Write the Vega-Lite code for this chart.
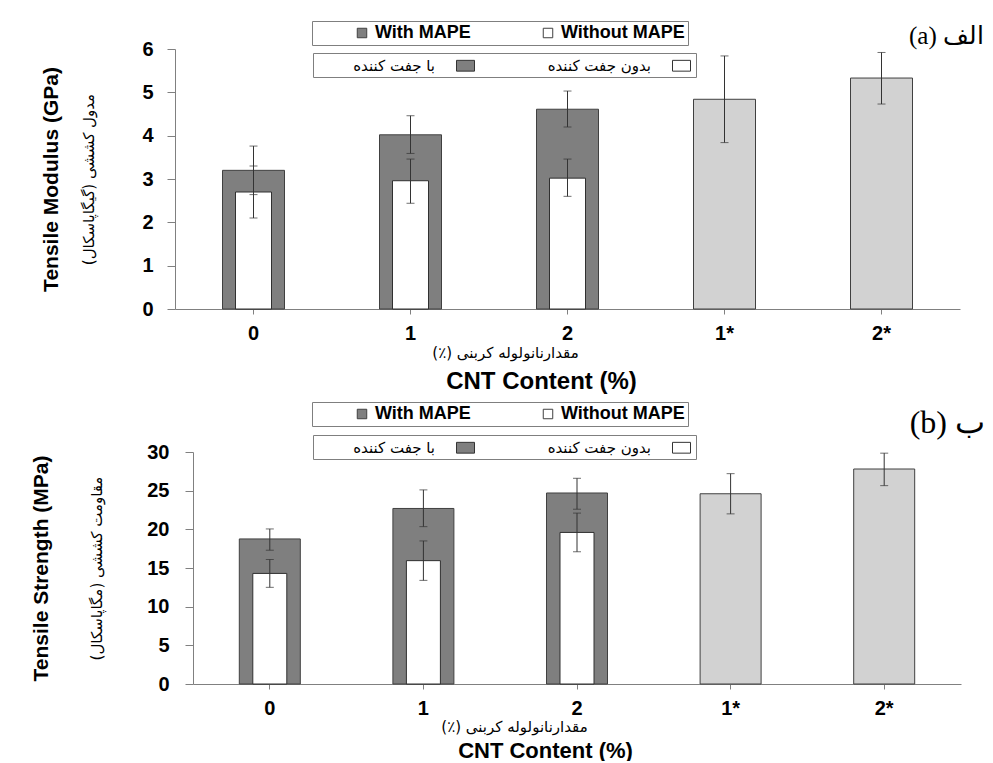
{
  "$schema": "https://vega.github.io/schema/vega-lite/v6.json",
  "background": "#ffffff",
  "padding": {"left": 30, "top": 20, "right": 0, "bottom": 0},
  "spacing": 8,
  "config": {
    "view": {"stroke": null},
    "axis": {"grid": false, "domainColor": "#808080", "tickColor": "#808080", "labelColor": "#000000", "titleColor": "#000000"}
  },
  "datasets": {
    "a": [
      {"cnt": "0", "s": "with", "g": "With MAPE", "gfa": "با جفت کننده", "v": 3.2, "lo": 2.64, "hi": 3.76},
      {"cnt": "0", "s": "without", "g": "Without MAPE", "gfa": "بدون جفت کننده", "v": 2.7, "lo": 2.1, "hi": 3.3},
      {"cnt": "1", "s": "with", "g": "With MAPE", "gfa": "با جفت کننده", "v": 4.02, "lo": 3.59, "hi": 4.46},
      {"cnt": "1", "s": "without", "g": "Without MAPE", "gfa": "بدون جفت کننده", "v": 2.96, "lo": 2.44, "hi": 3.46},
      {"cnt": "2", "s": "with", "g": "With MAPE", "gfa": "با جفت کننده", "v": 4.61, "lo": 4.2, "hi": 5.03},
      {"cnt": "2", "s": "without", "g": "Without MAPE", "gfa": "بدون جفت کننده", "v": 3.02, "lo": 2.6, "hi": 3.46},
      {"cnt": "1*", "s": "star", "g": "*", "gfa": "*", "v": 4.84, "lo": 3.84, "hi": 5.84},
      {"cnt": "2*", "s": "star", "g": "*", "gfa": "*", "v": 5.33, "lo": 4.73, "hi": 5.92}
    ],
    "b": [
      {"cnt": "0", "s": "with", "g": "With MAPE", "gfa": "با جفت کننده", "v": 18.76, "lo": 17.3, "hi": 20.05},
      {"cnt": "0", "s": "without", "g": "Without MAPE", "gfa": "بدون جفت کننده", "v": 14.3, "lo": 12.5, "hi": 16.1},
      {"cnt": "1", "s": "with", "g": "With MAPE", "gfa": "با جفت کننده", "v": 22.7, "lo": 20.35, "hi": 25.1},
      {"cnt": "1", "s": "without", "g": "Without MAPE", "gfa": "بدون جفت کننده", "v": 15.95, "lo": 13.4, "hi": 18.5},
      {"cnt": "2", "s": "with", "g": "With MAPE", "gfa": "با جفت کننده", "v": 24.7, "lo": 22.6, "hi": 26.6},
      {"cnt": "2", "s": "without", "g": "Without MAPE", "gfa": "بدون جفت کننده", "v": 19.6, "lo": 17.1, "hi": 22.1},
      {"cnt": "1*", "s": "star", "g": "*", "gfa": "*", "v": 24.6, "lo": 22.0, "hi": 27.2},
      {"cnt": "2*", "s": "star", "g": "*", "gfa": "*", "v": 27.8, "lo": 25.65, "hi": 29.85}
    ]
  },
  "vconcat": [
    {
      "width": 785,
      "height": 260,
      "title": {"text": "(a) الف", "anchor": "end", "frame": "group", "font": "Liberation Serif", "fontSize": 25, "fontWeight": "normal", "color": "#000000", "dx": 24, "offset": -28},
      "data": {"name": "a"},
      "layer": [
        {
          "transform": [{"filter": "datum.s != 'without'"}],
          "mark": {"type": "bar", "size": 62, "stroke": "#404040", "strokeWidth": 1},
          "encoding": {
            "x": {"field": "cnt", "type": "nominal", "scale": {"domain": ["0", "1", "2", "1*", "2*"], "paddingInner": 0, "paddingOuter": 0},
              "axis": {"orient": "bottom", "title": "مقدارنانولوله کربنی (٪)‏", "titleFont": "DejaVu Sans", "titleFontSize": 15, "titleFontWeight": "normal", "titleX": 330, "titlePadding": 2,
                "labelFont": "Liberation Sans", "labelFontSize": 20, "labelFontWeight": "bold", "labelAngle": 0, "labelPadding": 9, "tickSize": 5}},
            "y": {"field": "v", "type": "quantitative", "scale": {"domain": [0, 6]},
              "axis": {"orient": "left", "values": [0, 1, 2, 3, 4, 5, 6], "title": "مدول کششی (گیگاپاسکال)‏", "titleFont": "DejaVu Sans", "titleFontSize": 15, "titleFontWeight": "normal", "titlePadding": 45,
                "labelFont": "Liberation Sans", "labelFontSize": 20, "labelFontWeight": "bold", "labelPadding": 14, "tickSize": 8}},
            "fill": {"field": "g", "type": "nominal", "scale": {"domain": ["With MAPE", "Without MAPE", "*"], "range": ["#7f7f7f", "#ffffff", "#d2d2d2"]},
              "legend": {"orient": "none", "legendX": 137, "legendY": -28, "direction": "horizontal", "title": null,
                "values": ["With MAPE", "Without MAPE"],
                "strokeColor": "#7f7f7f", "fillColor": "#ffffff", "padding": 3, "labelFont": "Liberation Sans", "labelFontSize": 18, "labelFontWeight": "bold", "labelColor": "#000000", "labelLimit": 400,
                "symbolType": "square", "symbolSize": 90, "symbolStrokeColor": "#404040", "symbolStrokeWidth": 1, "symbolOffset": 38, "labelOffset": 4, "columnPadding": 30}}
          }
        },
        {
          "transform": [{"filter": "datum.s == 'without'"}],
          "mark": {"type": "bar", "size": 36, "stroke": "#303030", "strokeWidth": 1},
          "encoding": {
            "x": {"field": "cnt", "type": "nominal",
              "axis": {"orient": "bottom", "title": "CNT Content  (%)", "titleFont": "Liberation Sans", "titleFontSize": 24, "titleFontWeight": "bold", "labels": false, "ticks": false, "domain": false, "titlePadding": 60, "titleX": 366}},
            "y": {"field": "v", "type": "quantitative",
              "axis": {"orient": "left", "title": "Tensile Modulus (GPa)", "titleFont": "Liberation Sans", "titleFontSize": 21, "titleFontWeight": "bold", "labels": false, "ticks": false, "domain": false, "titlePadding": 114}},
            "fill": {"field": "gfa", "type": "nominal", "scale": {"domain": ["با جفت کننده", "بدون جفت کننده"], "range": ["#7f7f7f", "#ffffff"]},
              "legend": {"orient": "none", "legendX": 138, "legendY": 4, "direction": "horizontal", "title": null,
                "strokeColor": "#7f7f7f", "fillColor": "#ffffff", "padding": 3, "labelFont": "DejaVu Sans", "labelFontSize": 15, "labelColor": "#000000", "labelAlign": "right", "labelOffset": -40,
                "symbolType": "M-1,-0.6H1V0.6H-1Z", "symbolSize": 324, "symbolStrokeColor": "#333333", "symbolStrokeWidth": 1, "symbolOffset": 140, "columnPadding": 55}}
          }
        },
        {
          "mark": {"type": "rule", "color": "#333333", "strokeWidth": 1},
          "encoding": {
            "x": {"field": "cnt", "type": "nominal", "axis": null},
            "y": {"field": "lo", "type": "quantitative", "axis": null},
            "y2": {"field": "hi"}
          }
        },
        {
          "mark": {"type": "tick", "color": "#333333", "thickness": 1, "size": 8},
          "encoding": {
            "x": {"field": "cnt", "type": "nominal", "axis": null},
            "y": {"field": "lo", "type": "quantitative", "axis": null}
          }
        },
        {
          "mark": {"type": "tick", "color": "#333333", "thickness": 1, "size": 8},
          "encoding": {
            "x": {"field": "cnt", "type": "nominal", "axis": null},
            "y": {"field": "hi", "type": "quantitative", "axis": null}
          }
        }
      ],
      "resolve": {"scale": {"fill": "independent"}, "axis": {"x": "independent", "y": "independent"}}
    },
    {
      "width": 786,
      "height": 232,
      "title": {"text": "(b) ب", "anchor": "end", "frame": "group", "font": "Liberation Serif", "fontSize": 32, "fontWeight": "normal", "color": "#000000", "dx": 24, "offset": -38},
      "data": {"name": "b"},
      "layer": [
        {
          "transform": [{"filter": "datum.s != 'without'"}],
          "mark": {"type": "bar", "size": 61, "stroke": "#404040", "strokeWidth": 1},
          "encoding": {
            "x": {"field": "cnt", "type": "nominal", "scale": {"domain": ["0", "1", "2", "1*", "2*"], "paddingInner": 0, "paddingOuter": 0, "range": [18, 786]},
              "axis": {"orient": "bottom", "title": "مقدارنانولوله کربنی (٪)‏", "titleFont": "DejaVu Sans", "titleFontSize": 15, "titleFontWeight": "normal", "titleX": 339, "titlePadding": 1,
                "labelFont": "Liberation Sans", "labelFontSize": 20, "labelFontWeight": "bold", "labelAngle": 0, "labelPadding": 9, "tickSize": 5}},
            "y": {"field": "v", "type": "quantitative", "scale": {"domain": [0, 30]},
              "axis": {"orient": "left", "offset": -18, "values": [0, 5, 10, 15, 20, 25, 30], "title": "مقاومت کششی (مگاپاسکال)‏", "titleFont": "DejaVu Sans", "titleFontSize": 15, "titleFontWeight": "normal", "titlePadding": 42,
                "labelFont": "Liberation Sans", "labelFontSize": 20, "labelFontWeight": "bold", "labelPadding": 16, "tickSize": 8}},
            "fill": {"field": "g", "type": "nominal", "scale": {"domain": ["With MAPE", "Without MAPE", "*"], "range": ["#7f7f7f", "#ffffff", "#d2d2d2"]},
              "legend": {"orient": "none", "legendX": 137, "legendY": -50, "direction": "horizontal", "title": null,
                "values": ["With MAPE", "Without MAPE"],
                "strokeColor": "#7f7f7f", "fillColor": "#ffffff", "padding": 3, "labelFont": "Liberation Sans", "labelFontSize": 18, "labelFontWeight": "bold", "labelColor": "#000000", "labelLimit": 400,
                "symbolType": "square", "symbolSize": 90, "symbolStrokeColor": "#404040", "symbolStrokeWidth": 1, "symbolOffset": 38, "labelOffset": 4, "columnPadding": 30}}
          }
        },
        {
          "transform": [{"filter": "datum.s == 'without'"}],
          "mark": {"type": "bar", "size": 34, "stroke": "#303030", "strokeWidth": 1},
          "encoding": {
            "x": {"field": "cnt", "type": "nominal",
              "axis": {"orient": "bottom", "title": "CNT Content  (%)", "titleFont": "Liberation Sans", "titleFontSize": 22, "titleFontWeight": "bold", "labels": false, "ticks": false, "domain": false, "titlePadding": 56, "titleX": 370}},
            "y": {"field": "v", "type": "quantitative",
              "axis": {"orient": "left", "offset": -18, "title": "Tensile Strength (MPa)", "titleFont": "Liberation Sans", "titleFontSize": 21, "titleFontWeight": "bold", "labels": false, "ticks": false, "domain": false, "titlePadding": 142}},
            "fill": {"field": "gfa", "type": "nominal", "scale": {"domain": ["با جفت کننده", "بدون جفت کننده"], "range": ["#7f7f7f", "#ffffff"]},
              "legend": {"orient": "none", "legendX": 138, "legendY": -17, "direction": "horizontal", "title": null,
                "strokeColor": "#7f7f7f", "fillColor": "#ffffff", "padding": 3, "labelFont": "DejaVu Sans", "labelFontSize": 15, "labelColor": "#000000", "labelAlign": "right", "labelOffset": -40,
                "symbolType": "M-1,-0.6H1V0.6H-1Z", "symbolSize": 324, "symbolStrokeColor": "#333333", "symbolStrokeWidth": 1, "symbolOffset": 140, "columnPadding": 55}}
          }
        },
        {
          "mark": {"type": "rule", "color": "#333333", "strokeWidth": 1},
          "encoding": {
            "x": {"field": "cnt", "type": "nominal", "axis": null},
            "y": {"field": "lo", "type": "quantitative", "axis": null},
            "y2": {"field": "hi"}
          }
        },
        {
          "mark": {"type": "tick", "color": "#333333", "thickness": 1, "size": 8},
          "encoding": {
            "x": {"field": "cnt", "type": "nominal", "axis": null},
            "y": {"field": "lo", "type": "quantitative", "axis": null}
          }
        },
        {
          "mark": {"type": "tick", "color": "#333333", "thickness": 1, "size": 8},
          "encoding": {
            "x": {"field": "cnt", "type": "nominal", "axis": null},
            "y": {"field": "hi", "type": "quantitative", "axis": null}
          }
        }
      ],
      "resolve": {"scale": {"fill": "independent"}, "axis": {"x": "independent", "y": "independent"}}
    }
  ]
}
